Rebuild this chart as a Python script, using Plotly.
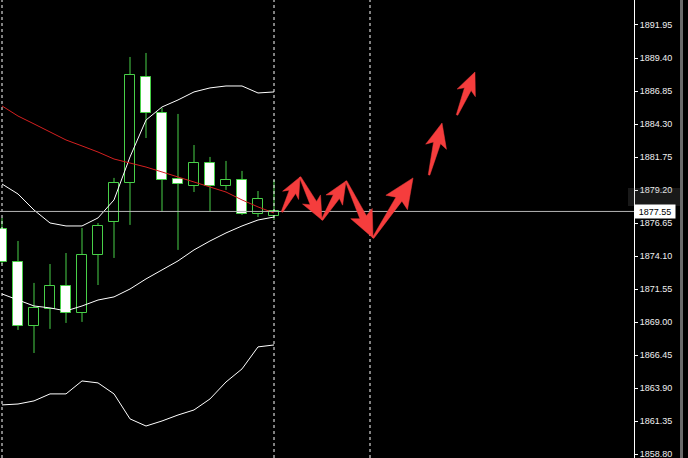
import plotly.graph_objects as go
import numpy as np

# ---------------- data ----------------
bar_index = list(range(18))
opens  = [1876.20, 1873.65, 1868.71, 1870.02, 1871.80, 1869.71, 1874.19, 1876.74, 1879.75,
          1887.93, 1885.15, 1880.06, 1879.52, 1881.29, 1879.52, 1879.98, 1877.36, 1877.20]
highs  = [1877.05, 1875.27, 1872.03, 1873.49, 1874.34, 1876.27, 1876.66, 1880.14, 1889.48,
          1889.79, 1885.54, 1885.08, 1882.68, 1881.76, 1881.45, 1880.68, 1879.13, 1879.98]
lows   = [1873.50, 1868.40, 1866.62, 1868.48, 1868.94, 1869.02, 1871.87, 1873.96, 1876.51,
          1883.22, 1877.51, 1874.58, 1879.05, 1877.51, 1879.21, 1877.28, 1877.12, 1876.89]
closes = [1873.65, 1868.71, 1870.10, 1871.80, 1869.71, 1874.19, 1876.43, 1879.75, 1888.09,
          1885.15, 1879.98, 1879.67, 1881.29, 1879.52, 1879.98, 1877.36, 1878.51, 1877.55]

band_upper = [1879.67, 1878.90, 1877.66, 1876.66, 1876.43, 1876.43, 1877.05, 1878.44, 1881.76,
              1884.61, 1885.62, 1886.16, 1886.78, 1887.09, 1887.24, 1887.24, 1886.70, 1886.78]
band_middle = [1871.18, 1870.71, 1870.25, 1870.10, 1869.87, 1870.25, 1870.71, 1870.95, 1871.56,
               1872.34, 1873.03, 1873.73, 1874.58, 1875.27, 1875.89, 1876.43, 1876.89, 1877.12]
band_lower = [1862.61, 1862.68, 1862.92, 1863.46, 1863.46, 1864.46, 1864.31, 1863.46, 1861.53,
              1860.98, 1861.37, 1861.83, 1862.22, 1863.07, 1864.38, 1865.39, 1867.09, 1867.24]
moving_avg = [1885.70, 1884.92, 1884.31, 1883.69, 1883.07, 1882.61, 1882.14, 1881.60, 1881.29,
              1880.98, 1880.60, 1880.21, 1879.83, 1879.44, 1879.05, 1878.44, 1877.90, 1877.43]

# projected path arrows (tail -> tip), in bar index / price
arrow_x0 = [17.50, 18.63, 20.00, 21.50, 23.19, 26.69, 28.44]
arrow_y0 = [1877.51, 1880.21, 1876.89, 1879.90, 1875.50, 1880.37, 1885.00]
arrow_x1 = [18.63, 20.00, 21.50, 23.19, 25.69, 27.50, 29.56]
arrow_y1 = [1880.21, 1876.89, 1879.90, 1875.50, 1880.14, 1884.38, 1888.32]

separators = [0, 17, 23]
current_price = 1877.55
tick_labels = ["1858.80", "1861.35", "1863.90", "1866.45", "1869.00", "1871.55", "1874.10",
               "1876.65", "1879.20", "1881.75", "1884.30", "1886.85", "1889.40", "1891.95"]

# ---------------- layout constants ----------------
W, H = 688, 458
M_L, M_R, M_T, M_B = 0, 54, 0, 0
X_RANGE = [-0.125, 39.5]
Y_RANGE = [1858.51, 1893.88]
GREEN = "#48d048"
ARROW_RED = "#f53d3d"

plot_w = W - M_L - M_R
plot_h = H - M_T - M_B
ux = (X_RANGE[1] - X_RANGE[0]) / plot_w   # data units per px
uy = (Y_RANGE[1] - Y_RANGE[0]) / plot_h

fig = go.Figure()

# wicks (split so they do not cross bodies)
wx, wy = [], []
for i, o, h, l, c in zip(bar_index, opens, highs, lows, closes):
    top, bot = max(o, c), min(o, c)
    wx += [i, i, None, i, i, None]
    wy += [top, h, None, l, bot, None]
fig.add_trace(go.Scatter(x=wx, y=wy, mode="lines", line=dict(color=GREEN, width=1),
                         hoverinfo="skip", showlegend=False))

# bodies
base = [min(o, c) for o, c in zip(opens, closes)]
height = [max(abs(c - o), 0.06) for o, c in zip(opens, closes)]
fills = ["#000000" if c >= o else "#ffffff" for o, c in zip(opens, closes)]
fig.add_trace(go.Bar(x=bar_index, y=height, base=base, width=0.66,
                     marker=dict(color=fills, line=dict(color=GREEN, width=1)),
                     showlegend=False, hoverinfo="skip"))

# indicator lines
for series, col in [(band_upper, "#ffffff"), (band_middle, "#ffffff"),
                    (band_lower, "#ffffff"), (moving_avg, "#d42020")]:
    fig.add_trace(go.Scatter(x=bar_index, y=series, mode="lines",
                             line=dict(color=col, width=1), showlegend=False,
                             hoverinfo="skip"))

shapes = []
# period separators
for s in separators:
    shapes.append(dict(type="line", xref="x", yref="paper", x0=s, x1=s, y0=0, y1=1,
                       line=dict(color="#ffffff", width=1, dash="3px,3px")))
# current price line
shapes.append(dict(type="line", xref="paper", yref="y", x0=0, x1=1,
                   y0=current_price, y1=current_price,
                   line=dict(color="#b4b4b4", width=1)))

# arrows as filled polygons, built in pixel space then mapped to data
for x0, y0, x1, y1 in zip(arrow_x0, arrow_y0, arrow_x1, arrow_y1):
    tx, ty = x0 / ux, -y0 / uy
    px, py = x1 / ux, -y1 / uy
    dx, dy = px - tx, py - ty
    L = np.hypot(dx, dy)
    ex, ey = dx / L, dy / L
    nx, ny = -ey, ex
    hl = 0.27 * L + 6
    bw = 0.45 * hl + 1.5
    sw = 3.6
    bx, by = px - ex * hl, py - ey * hl
    bbx, bby = bx - ex * 4, by - ey * 4
    pts = [(tx + nx * 0.8, ty + ny * 0.8), (bx + nx * sw, by + ny * sw),
           (bbx + nx * bw, bby + ny * bw), (px, py),
           (bbx - nx * bw, bby - ny * bw), (bx - nx * sw, by - ny * sw),
           (tx - nx * 0.8, ty - ny * 0.8)]
    path = "M " + " L ".join(f"{a * ux:.4f},{-b * uy:.4f}" for a, b in pts) + " Z"
    shapes.append(dict(type="path", xref="x", yref="y", path=path,
                       fillcolor=ARROW_RED, line=dict(color=ARROW_RED, width=0.5)))

# faint watermark box at right axis and window edge
shapes.append(dict(type="rect", xref="paper", yref="paper", x0=628 / plot_w, x1=680 / plot_w,
                   y0=1 - 206 / plot_h, y1=1 - 188 / plot_h,
                   fillcolor="rgba(140,140,140,0.18)", line=dict(width=0)))
shapes.append(dict(type="rect", xref="paper", yref="paper", x0=680 / plot_w, x1=683 / plot_w,
                   y0=0, y1=1, fillcolor="#6a6a6a", line=dict(width=0)))

tickvals = [float(t) for t in tick_labels]

fig.update_layout(
    width=W, height=H,
    margin=dict(l=M_L, r=M_R, t=M_T, b=M_B, pad=0),
    paper_bgcolor="#000000", plot_bgcolor="#000000",
    showlegend=False, shapes=shapes, bargap=0,
    xaxis=dict(range=X_RANGE, visible=False, showgrid=False, zeroline=False),
    yaxis=dict(range=Y_RANGE, side="right", tickvals=tickvals, ticktext=tick_labels,
               showgrid=False, zeroline=False, showline=True, linecolor="#ffffff",
               linewidth=1, ticks="outside", ticklen=3, tickcolor="#ffffff",
               ticklabeloverflow="allow",
               tickfont=dict(family="Liberation Sans", size=9, color="#f0f0f0")),
    annotations=[dict(xref="paper", yref="y", x=1, y=current_price, xanchor="left",
                      yanchor="middle", text=f"{current_price:.2f}", showarrow=False,
                      bgcolor="#ffffff", font=dict(family="Liberation Sans", size=9,
                                                   color="#000000"),
                      width=38, height=11, borderpad=1, align="center")],
)

fig.write_html("out.html", config={"displayModeBar": False},
               post_script="document.body.style.margin='0';document.body.style.background='#000';")
